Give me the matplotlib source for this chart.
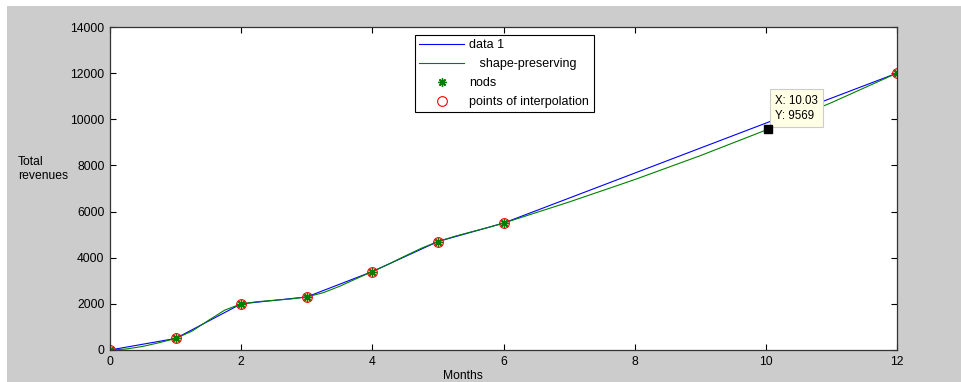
import matplotlib.pyplot as plt
import matplotlib.patches as mpatches

plt.rcParams['font.family'] = ['Liberation Sans', 'DejaVu Sans']

# nodes
months = [0, 1, 2, 3, 4, 5, 6, 12]
revenues = [0, 500, 2000, 2300, 3400, 4700, 5500, 12000]

# shape-preserving curve
sp_x = [0, 0.25, 0.5, 0.75, 1, 1.25, 1.5, 1.75, 2, 2.25, 2.5, 2.75, 3,
        3.25, 3.5, 3.75, 4, 4.25, 4.5, 4.75, 5, 5.25, 5.5, 5.75, 6,
        7, 8, 9, 10, 11, 12]
sp_y = [0, 43, 156, 316, 500, 816, 1281, 1730, 2000, 2095, 2154, 2210, 2300,
        2482, 2760, 3083, 3400, 3724, 4075, 4414, 4700, 4923, 5113, 5297, 5500,
        6414, 7386, 8422, 9531, 10721, 12000]

tip_x = 10.03
tip_y = 9569

W, H = 961, 382
fig = plt.figure(figsize=(W / 100, H / 100), dpi=100)
fig.patch.set_facecolor('#cccccc')
# white strip at top / left edge of the screenshot
fig.patches.append(mpatches.Rectangle((0, 1 - 6 / H), 1, 6 / H, transform=fig.transFigure,
                                      facecolor='white', edgecolor='none', zorder=0))
fig.patches.append(mpatches.Rectangle((0, 0), 7 / W, 1, transform=fig.transFigure,
                                      facecolor='white', edgecolor='none', zorder=0))

ax = fig.add_axes([110 / W, (H - 350) / H, 787 / W, 323 / H])
ax.set_facecolor('white')

ax.plot(months, revenues, color='#0000ff', lw=0.8, label='data 1')
ax.plot(sp_x, sp_y, color='#008000', lw=0.8, label='   shape-preserving')
ax.plot(months, revenues, ls='none', marker=(8, 2, 0), color='#008000', ms=6, mew=1.0,
        label='nods')
ax.plot(months, revenues, ls='none', marker='o', mfc='none', mec='#ff0000', ms=7,
        mew=0.8, label='points of interpolation')

ax.plot([tip_x], [tip_y], ls='none', marker='s', color='black', ms=6, zorder=5)
ax.annotate('X: %.2f\nY: %d' % (tip_x, tip_y), xy=(tip_x, tip_y), xytext=(7, 7),
            textcoords='offset pixels', ha='left', va='bottom', fontsize=8.3,
            linespacing=1.4,
            bbox=dict(boxstyle='square,pad=0.45', fc='#ffffe6', ec='#cccccc', lw=0.8))

ax.set_xlim(0, 12)
ax.set_ylim(0, 14000)
ax.set_xticks(range(0, 13, 2))
ax.set_yticks(range(0, 14001, 2000))
ax.tick_params(direction='in', top=True, right=True, labelsize=8.7, length=4, width=0.8, pad=4)
for s in ax.spines.values():
    s.set_linewidth(0.9)
    s.set_color('#333333')

leg = ax.legend(loc='upper left', bbox_to_anchor=((415 - 110) / 787, (350 - 35) / 323),
                fontsize=9, fancybox=False, framealpha=1, edgecolor='black',
                handlelength=3.6, handletextpad=0.4, borderpad=0.35, labelspacing=0.55,
                borderaxespad=0)
leg.get_frame().set_linewidth(0.8)

fig.text(18 / W, 1 - 169 / H, 'Total\nrevenues', ha='left', va='center', fontsize=8.7)
fig.text(463 / W, 1 - 376 / H, 'Months', ha='center', va='center', fontsize=8.7)

fig.savefig('out.png', dpi=100, facecolor=fig.get_facecolor())
